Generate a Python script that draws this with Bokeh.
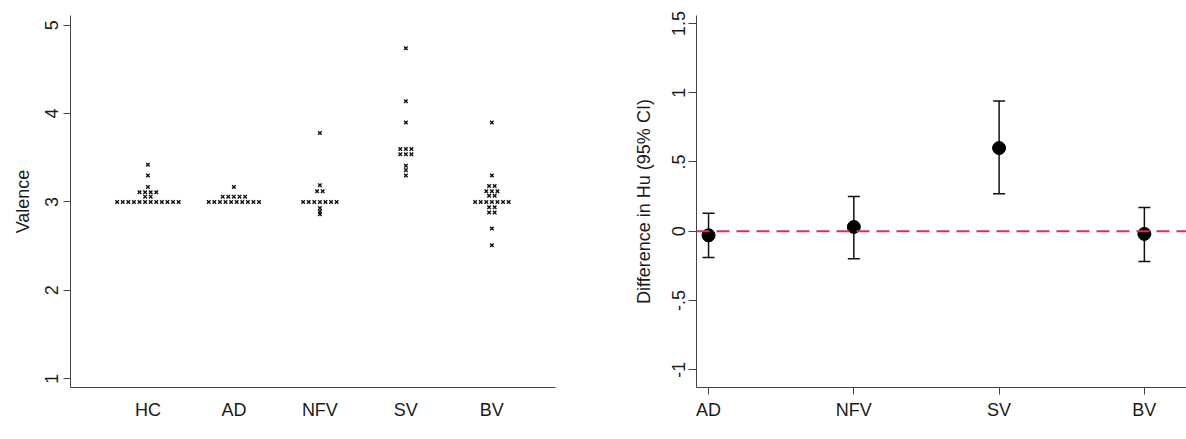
from bokeh.plotting import figure
from bokeh.layouts import row
from bokeh.models import (FixedTicker, Span, Whisker, ColumnDataSource, TeeHead, Range1d)
from bokeh.embed import file_html
from bokeh.resources import INLINE

# ---------------- data: left panel (dot plot of valence) ----------------
groups_left = ["HC", "AD", "NFV", "SV", "BV"]
hc_vals = [3.42, 3.30, 3.17, 3.11, 3.11, 3.11, 3.11, 3.06, 3.06] + [3.0] * 12
ad_vals = [3.17, 3.06, 3.06, 3.06, 3.06, 3.06] + [3.0] * 10
nfv_vals = [3.78, 3.19, 3.12, 3.12] + [3.0] * 7 + [2.93, 2.89, 2.86]
sv_vals = [4.74, 4.14, 3.90, 3.60, 3.60, 3.60, 3.54, 3.54, 3.54, 3.41, 3.36, 3.30]
bv_vals = [3.90, 3.30, 3.18, 3.18, 3.12, 3.12, 3.12, 3.07, 3.07] + [3.0] * 7 + \
          [2.94, 2.94, 2.88, 2.88, 2.70, 2.51]
left_yticks = [1, 2, 3, 4, 5]

# ---------------- data: right panel (difference in Hu, 95% CI) ----------------
groups_right = ["AD", "NFV", "SV", "BV"]
diff_est = [-0.03, 0.03, 0.60, -0.02]
diff_lo = [-0.19, -0.20, 0.27, -0.22]
diff_hi = [0.13, 0.25, 0.94, 0.17]
right_yticks = [-1, -0.5, 0, 0.5, 1, 1.5]
right_ytick_labels = ["-1", "-.5", "0", ".5", "1", "1.5"]

FONT = "Liberation Sans"
AX = "#444444"
TXT = "#1a1a1a"

def style_axes(p):
    for ax in (p.xaxis[0], p.yaxis[0]):
        ax.axis_line_color = AX
        ax.major_tick_line_color = AX
        ax.minor_tick_line_color = None
        ax.major_label_text_font = FONT
        ax.axis_label_text_font = FONT
        ax.major_label_text_font_size = "18px"
        ax.axis_label_text_font_size = "18px"
        ax.axis_label_text_font_style = "normal"
        ax.major_label_text_color = TXT
        ax.axis_label_text_color = TXT
    p.xgrid.visible = False
    p.ygrid.visible = False
    p.outline_line_color = None

# ---------------- left figure ----------------
p1 = figure(width=600, height=439, x_range=Range1d(0.1, 5.74), y_range=Range1d(0.9, 5.11),
            min_border_left=70, min_border_right=45, min_border_top=15, min_border_bottom=51,
            output_backend="svg", toolbar_location=None)
style_axes(p1)

step = 0.065  # horizontal spacing of stacked markers (data units)
all_left = [hc_vals, ad_vals, nfv_vals, sv_vals, bv_vals]
xs, ys = [], []
for gi, vals in enumerate(all_left):
    counts = {}
    for v in vals:
        counts[v] = counts.get(v, 0) + 1
    for v, n in counts.items():
        for k in range(n):
            xs.append(gi + 1 + (k - (n - 1) / 2) * step)
            ys.append(v)
p1.scatter(xs, ys, marker="x", size=5, line_color="#111111", line_width=1.4)

p1.xaxis.ticker = FixedTicker(ticks=list(range(1, len(groups_left) + 1)))
p1.xaxis.major_label_overrides = {i + 1: g for i, g in enumerate(groups_left)}
p1.xaxis.major_tick_out = 0
p1.xaxis.major_tick_in = 0
p1.xaxis.major_label_standoff = 12
p1.yaxis.ticker = FixedTicker(ticks=left_yticks)
p1.yaxis.major_label_orientation = "vertical"
p1.yaxis.major_tick_out = 7
p1.yaxis.major_tick_in = 0
p1.yaxis.major_label_standoff = 5
p1.yaxis.axis_label = "Valence"
p1.yaxis.axis_label_standoff = 10

# ---------------- right figure ----------------
p2 = figure(width=586, height=439, x_range=Range1d(0.917, 4.29), y_range=Range1d(-1.129, 1.557),
            min_border_left=96, min_border_right=0, min_border_top=13, min_border_bottom=52,
            output_backend="svg", toolbar_location=None)
style_axes(p2)

p2.add_layout(Span(location=0, dimension="width", line_color="#dc2f55", line_width=2,
                   line_dash="13 7"))

xr = list(range(1, len(groups_right) + 1))
src = ColumnDataSource(dict(x=xr, est=diff_est, lo=diff_lo, hi=diff_hi))
p2.add_layout(Whisker(source=src, base="x", lower="lo", upper="hi", dimension="height",
                      line_color="#111111", line_width=1.5,
                      lower_head=TeeHead(size=12, line_color="#111111", line_width=1.5),
                      upper_head=TeeHead(size=12, line_color="#111111", line_width=1.5)))
p2.scatter("x", "est", source=src, size=13, fill_color="#000000", line_color="#000000")

p2.xaxis.ticker = FixedTicker(ticks=xr)
p2.xaxis.major_label_overrides = {i + 1: g for i, g in enumerate(groups_right)}
p2.xaxis.major_tick_out = 7
p2.xaxis.major_tick_in = 0
p2.xaxis.major_label_standoff = 5
p2.yaxis.ticker = FixedTicker(ticks=right_yticks)
p2.yaxis.major_label_overrides = {t: l for t, l in zip(right_yticks, right_ytick_labels)}
p2.yaxis.major_label_orientation = "vertical"
p2.yaxis.major_tick_out = 8
p2.yaxis.major_tick_in = 0
p2.yaxis.major_label_standoff = 3
p2.yaxis.axis_label = "Difference in Hu (95% CI)"
p2.yaxis.axis_label_standoff = 16

layout = row(p1, p2)
open("out.html", "w").write(file_html(layout, INLINE))
